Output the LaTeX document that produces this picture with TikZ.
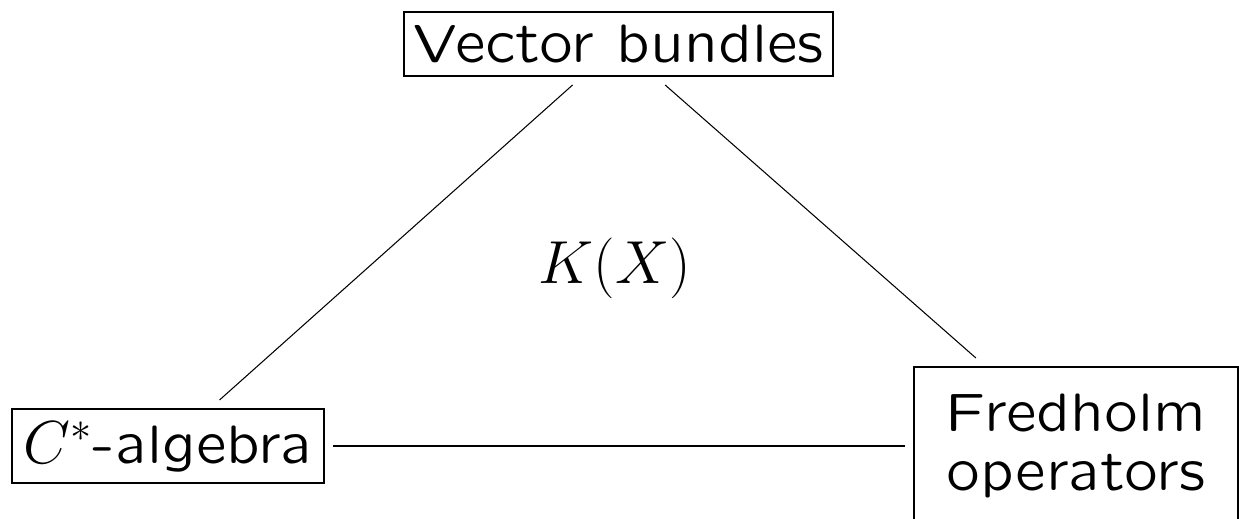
\documentclass[tikz,border=0pt]{standalone}
\usepackage{amsmath}
\font\slisf=lcmss8 at 15.4pt

\begin{document}
\begin{tikzpicture}[
  x=0.01cm, y=-0.01cm,
  font=\fontsize{17.28}{17}\selectfont\slisf,
  box/.style  = {draw, rectangle, line width=0.6pt, inner sep=0pt, outer sep=0.09cm, align=center},
  link/.style = {line width=0.3pt},
]
  \clip (0,0) rectangle (1239,518);

  \node[box, minimum width=4.29cm, minimum height=0.64cm] (vb) at (618.5,44)  {Vector bundles};
  \node[box, minimum width=3.12cm, minimum height=0.74cm] (cs) at (168,446)   {$C^*$-algebra};
  \node[box, minimum width=3.24cm, minimum height=1.58cm] (fo) at (1076,446)  {Fredholm\\operators};
  \node (kx) at (615,268) {$K(X)$};

  \draw[link] (vb) -- (cs);
  \draw[link] (vb) -- (fo);
  \draw[link] (cs) -- (fo);
\end{tikzpicture}
\end{document}
